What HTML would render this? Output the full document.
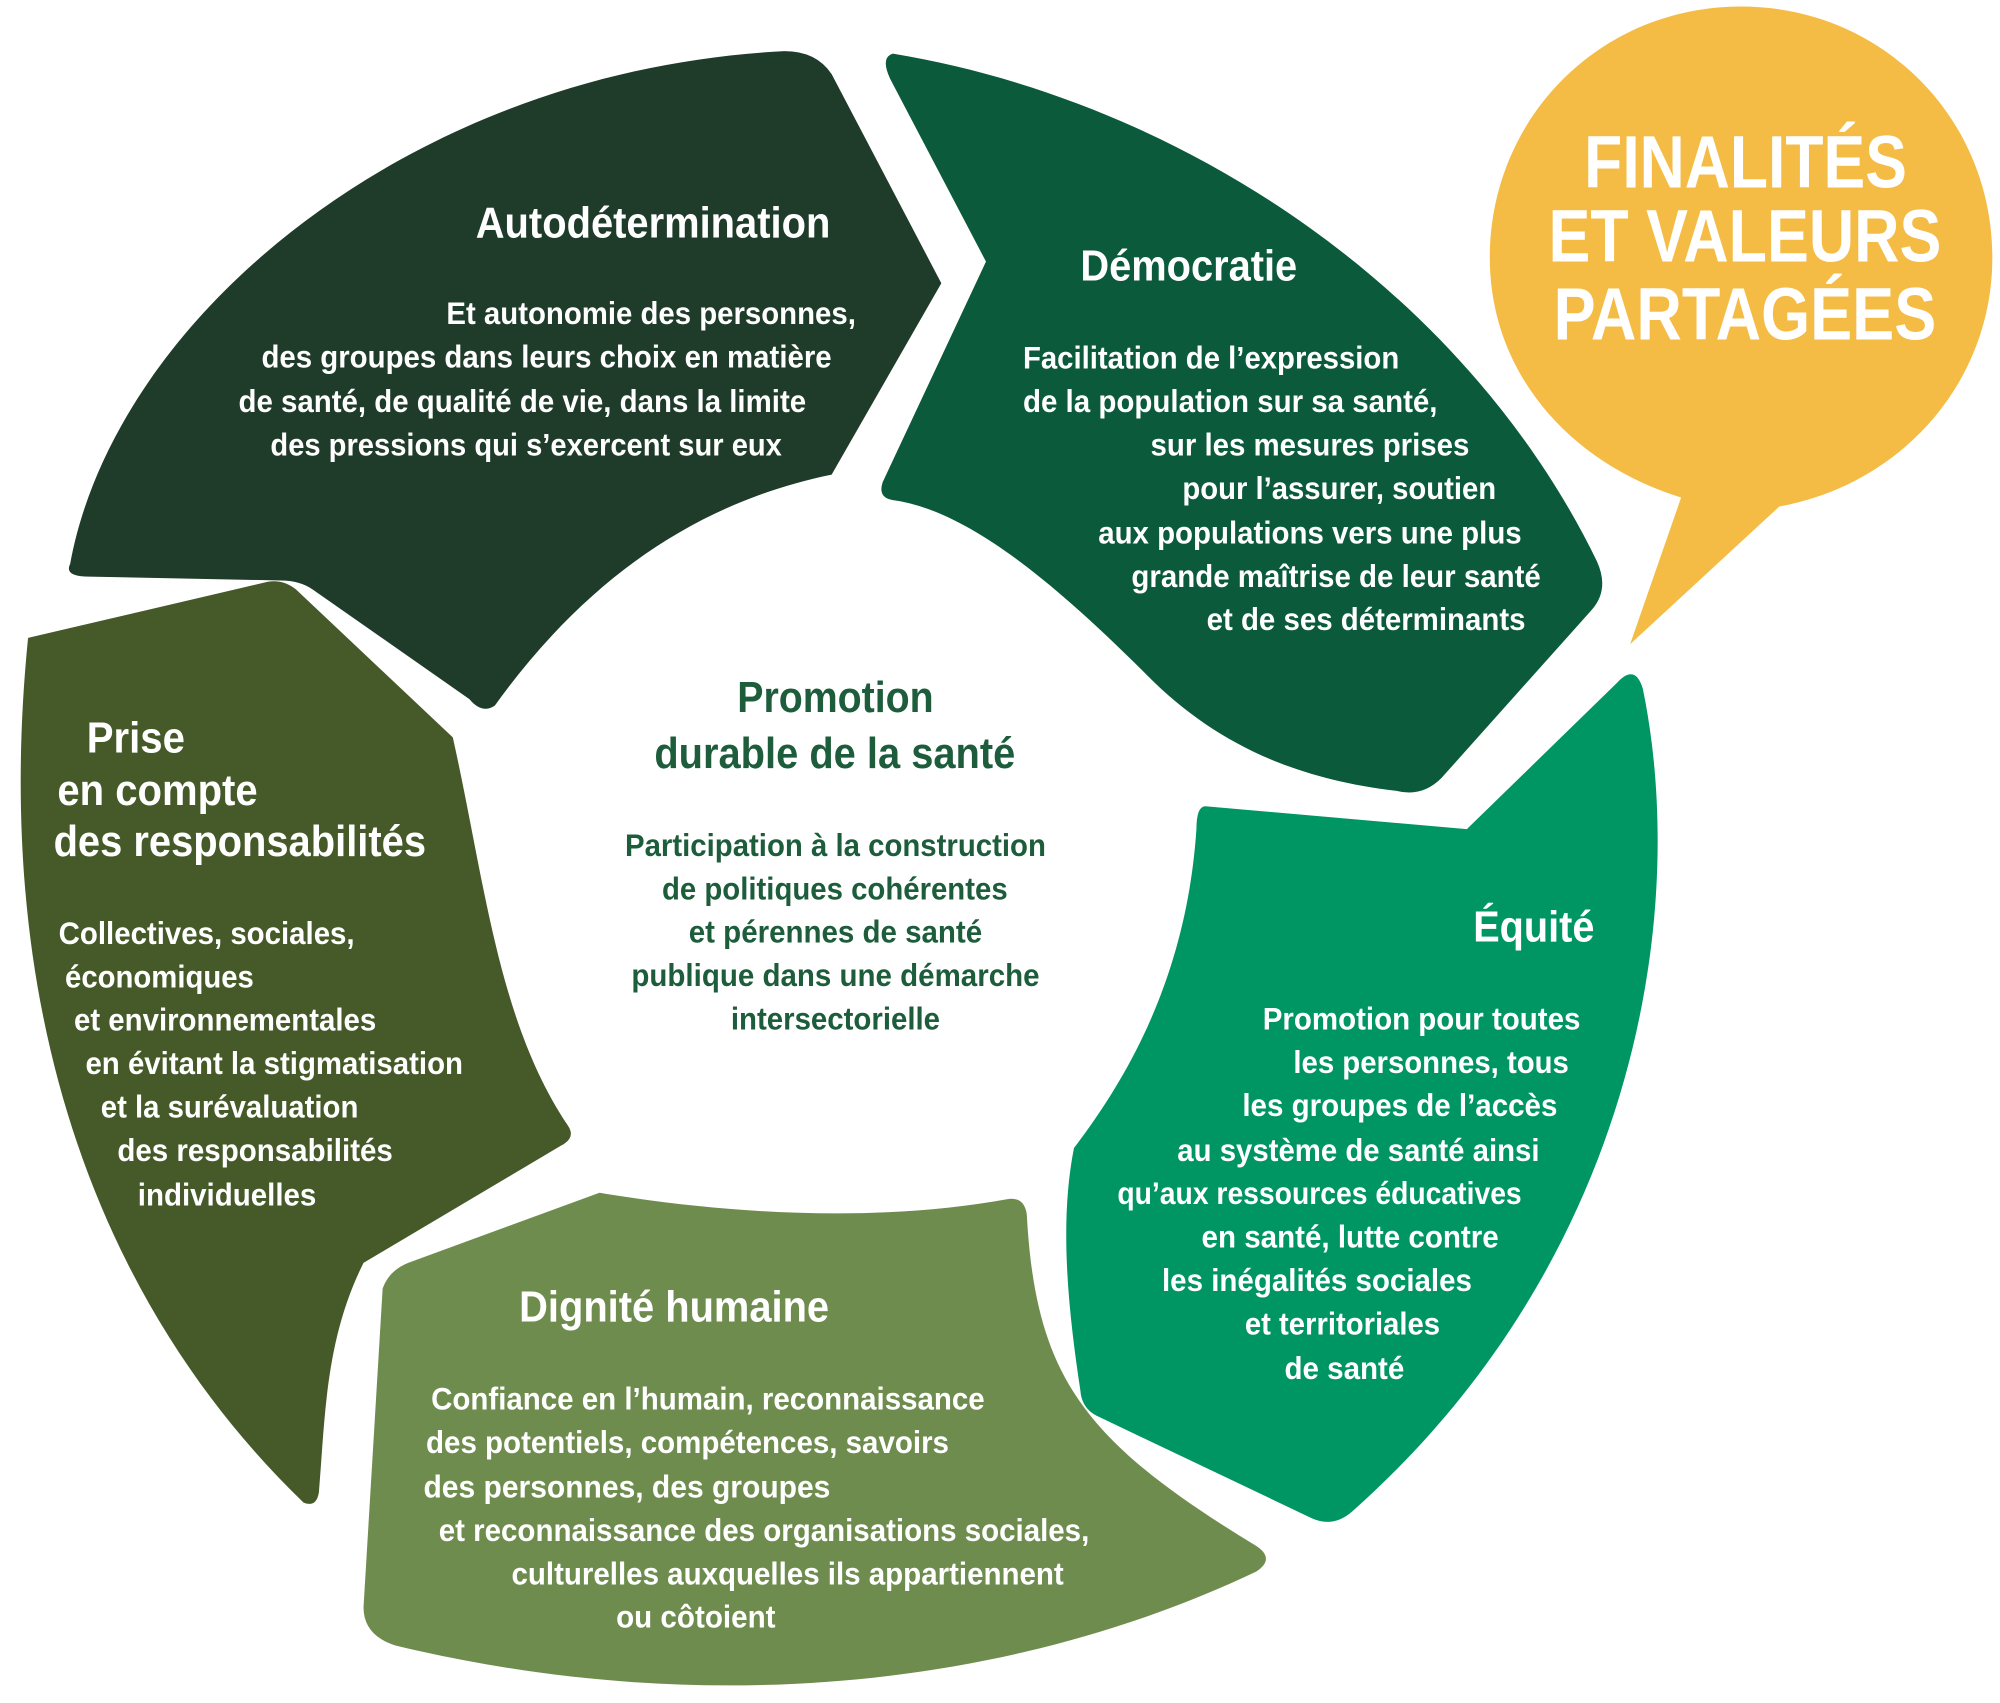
<!DOCTYPE html>
<html><head><meta charset="utf-8"><style>
html,body{margin:0;padding:0;background:#fff;}
svg{display:block;}
text{font-family:"Liberation Sans Narrow","Liberation Sans",sans-serif;font-weight:bold;}
.w{fill:#fff;}
.t{font-size:34px;}
.b{font-size:25px;}
.g{fill:#1d5d3c;}
.y{fill:#fff;font-size:58px;}
</style></head><body>
<svg width="2000" height="1703" viewBox="0 0 1568 1335" xmlns="http://www.w3.org/2000/svg">
<rect width="1568" height="1335" fill="#fff"/>
<!-- Autodetermination -->
<path d="M55,442 C90,250 320,55 615,40 Q640,40 652,58 L738,222 L652,372 C540,395 455,460 388,553 Q378,560 368,548 L245,462 Q235,455 220,455 L70,452 Q50,452 55,442 Z" fill="#1f3b2a"/>
<!-- Democratie -->
<path d="M700,42 C930,80 1150,230 1252,440 Q1262,462 1248,478 L1130,610 Q1115,625 1095,620 C1010,610 950,580 900,530 C830,460 760,400 700,392 Q688,390 692,378 L773,205 L698,62 Q690,45 700,42 Z" fill="#0b5a3b"/>
<!-- Equite -->
<path d="M945,632 L1150,650 L1268,535 Q1282,520 1288,540 C1325,720 1280,990 1060,1185 Q1045,1198 1028,1190 L860,1110 Q848,1104 847,1090 C838,1030 830,960 842,900 C880,850 930,770 938,650 Q938,632 945,632 Z" fill="#009663"/>
<!-- Dignite -->
<path d="M300,1010 Q305,996 320,990 L470,935 C560,950 680,960 790,940 Q803,938 805,952 C812,1080 850,1130 985,1212 Q1000,1222 985,1232 C800,1320 560,1350 310,1290 Q285,1282 285,1260 Z" fill="#6f8c4f"/>
<!-- Prise -->
<path d="M22,500 L210,456 Q222,454 232,462 L355,578 C380,690 390,800 445,882 Q452,892 440,898 L285,990 C255,1050 255,1110 250,1170 Q248,1182 238,1178 C95,1040 -10,820 22,500 Z" fill="#465a29"/>
<!-- Bubble -->
<path d="M1365,5 C1475,5 1562,92 1562,202 C1562,300 1490,380 1395,397 L1278,505 L1318,390 C1228,362 1168,290 1168,202 C1168,92 1255,5 1365,5 Z" fill="#f5bc45"/>

<text class="y" x="1242" y="147" textLength="253" lengthAdjust="spacingAndGlyphs">FINALITÉS</text>
<text class="y" x="1214" y="205" textLength="308" lengthAdjust="spacingAndGlyphs">ET VALEURS</text>
<text class="y" x="1218" y="266" textLength="300" lengthAdjust="spacingAndGlyphs">PARTAGÉES</text>

<g class="w">
<text class="t" x="373" y="186" textLength="278" lengthAdjust="spacingAndGlyphs">Autodétermination</text>
<text class="b" x="350" y="254" textLength="321" lengthAdjust="spacingAndGlyphs">Et autonomie des personnes,</text>
<text class="b" x="205" y="288" textLength="447" lengthAdjust="spacingAndGlyphs">des groupes dans leurs choix en matière</text>
<text class="b" x="187" y="323" textLength="445" lengthAdjust="spacingAndGlyphs">de santé, de qualité de vie, dans la limite</text>
<text class="b" x="212" y="357" textLength="401" lengthAdjust="spacingAndGlyphs">des pressions qui s’exercent sur eux</text>

<text class="t" x="847" y="220" textLength="170" lengthAdjust="spacingAndGlyphs">Démocratie</text>
<text class="b" x="802" y="289" textLength="295" lengthAdjust="spacingAndGlyphs">Facilitation de l’expression</text>
<text class="b" x="802" y="323" textLength="325" lengthAdjust="spacingAndGlyphs">de la population sur sa santé,</text>
<text class="b" x="902" y="357" textLength="250" lengthAdjust="spacingAndGlyphs">sur les mesures prises</text>
<text class="b" x="927" y="391" textLength="246" lengthAdjust="spacingAndGlyphs">pour l’assurer, soutien</text>
<text class="b" x="861" y="426" textLength="332" lengthAdjust="spacingAndGlyphs">aux populations vers une plus</text>
<text class="b" x="887" y="460" textLength="321" lengthAdjust="spacingAndGlyphs">grande maîtrise de leur santé</text>
<text class="b" x="946" y="494" textLength="250" lengthAdjust="spacingAndGlyphs">et de ses déterminants</text>

<text class="t" x="68" y="590" textLength="77" lengthAdjust="spacingAndGlyphs">Prise</text>
<text class="t" x="45" y="631" textLength="157" lengthAdjust="spacingAndGlyphs">en compte</text>
<text class="t" x="42" y="671" textLength="292" lengthAdjust="spacingAndGlyphs">des responsabilités</text>
<text class="b" x="46" y="740" textLength="232" lengthAdjust="spacingAndGlyphs">Collectives, sociales,</text>
<text class="b" x="51" y="774" textLength="148" lengthAdjust="spacingAndGlyphs">économiques</text>
<text class="b" x="58" y="808" textLength="237" lengthAdjust="spacingAndGlyphs">et environnementales</text>
<text class="b" x="67" y="842" textLength="296" lengthAdjust="spacingAndGlyphs">en évitant la stigmatisation</text>
<text class="b" x="79" y="876" textLength="202" lengthAdjust="spacingAndGlyphs">et la surévaluation</text>
<text class="b" x="92" y="910" textLength="216" lengthAdjust="spacingAndGlyphs">des responsabilités</text>
<text class="b" x="108" y="945" textLength="140" lengthAdjust="spacingAndGlyphs">individuelles</text>

<text class="t" x="1155" y="738" textLength="95" lengthAdjust="spacingAndGlyphs">Équité</text>
<text class="b" x="990" y="807" textLength="249" lengthAdjust="spacingAndGlyphs">Promotion pour toutes</text>
<text class="b" x="1014" y="841" textLength="216" lengthAdjust="spacingAndGlyphs">les personnes, tous</text>
<text class="b" x="974" y="875" textLength="247" lengthAdjust="spacingAndGlyphs">les groupes de l’accès</text>
<text class="b" x="923" y="910" textLength="284" lengthAdjust="spacingAndGlyphs">au système de santé ainsi</text>
<text class="b" x="876" y="944" textLength="317" lengthAdjust="spacingAndGlyphs">qu’aux ressources éducatives</text>
<text class="b" x="942" y="978" textLength="233" lengthAdjust="spacingAndGlyphs">en santé, lutte contre</text>
<text class="b" x="911" y="1012" textLength="243" lengthAdjust="spacingAndGlyphs">les inégalités sociales</text>
<text class="b" x="976" y="1046" textLength="153" lengthAdjust="spacingAndGlyphs">et territoriales</text>
<text class="b" x="1007" y="1081" textLength="94" lengthAdjust="spacingAndGlyphs">de santé</text>

<text class="t" x="407" y="1036" textLength="243" lengthAdjust="spacingAndGlyphs">Dignité humaine</text>
<text class="b" x="338" y="1105" textLength="434" lengthAdjust="spacingAndGlyphs">Confiance en l’humain, reconnaissance</text>
<text class="b" x="334" y="1139" textLength="410" lengthAdjust="spacingAndGlyphs">des potentiels, compétences, savoirs</text>
<text class="b" x="332" y="1174" textLength="319" lengthAdjust="spacingAndGlyphs">des personnes,  des groupes</text>
<text class="b" x="344" y="1208" textLength="510" lengthAdjust="spacingAndGlyphs">et reconnaissance des organisations sociales,</text>
<text class="b" x="401" y="1242" textLength="433" lengthAdjust="spacingAndGlyphs">culturelles auxquelles ils appartiennent</text>
<text class="b" x="483" y="1276" textLength="125" lengthAdjust="spacingAndGlyphs">ou côtoient</text>
</g>

<g class="g">
<text class="t" x="578" y="558" textLength="154" lengthAdjust="spacingAndGlyphs">Promotion</text>
<text class="t" x="513" y="602" textLength="283" lengthAdjust="spacingAndGlyphs">durable de la santé</text>
<text class="b" x="490" y="671" textLength="330" lengthAdjust="spacingAndGlyphs">Participation à la construction</text>
<text class="b" x="519" y="705" textLength="271" lengthAdjust="spacingAndGlyphs">de politiques cohérentes</text>
<text class="b" x="540" y="739" textLength="230" lengthAdjust="spacingAndGlyphs">et pérennes de santé</text>
<text class="b" x="495" y="773" textLength="320" lengthAdjust="spacingAndGlyphs">publique dans une démarche</text>
<text class="b" x="573" y="807" textLength="164" lengthAdjust="spacingAndGlyphs">intersectorielle</text>
</g>
</svg>
</body></html>
